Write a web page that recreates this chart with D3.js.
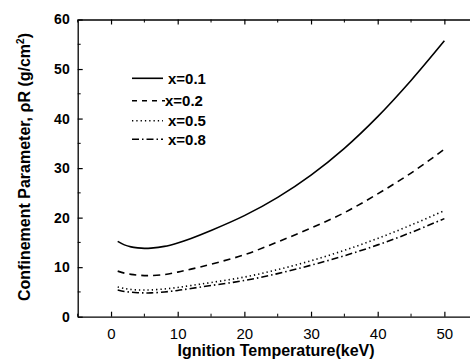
<!DOCTYPE html>
<html><head><meta charset="utf-8">
<script src="https://cdn.jsdelivr.net/npm/d3@7/dist/d3.min.js"></script>
<style>body{margin:0;background:#fff}svg{display:block}</style>
</head><body>
<svg id="c" width="470" height="363"></svg>
<script>
const temps = [1, 2, 3, 4, 5, 6, 8, 10, 12, 15, 20, 25, 30, 35, 40, 45, 50];
const series01 = [15.2, 14.5, 14.1, 13.9, 13.8, 13.85, 14.2, 14.9, 15.8, 17.4, 20.4, 24.1, 28.6, 34.0, 40.4, 47.7, 55.7];
const series02 = [9.2, 8.8, 8.55, 8.4, 8.3, 8.3, 8.5, 9.0, 9.6, 10.6, 12.5, 15.1, 17.9, 21.0, 24.8, 29.0, 33.8];
const series05 = [6.0, 5.7, 5.5, 5.4, 5.4, 5.4, 5.6, 5.9, 6.3, 6.9, 8.0, 9.5, 11.3, 13.4, 15.8, 18.5, 21.4];
const series08 = [5.4, 5.1, 4.95, 4.85, 4.8, 4.8, 5.0, 5.3, 5.7, 6.3, 7.3, 8.7, 10.4, 12.3, 14.5, 17.0, 19.8];
const seriesNames = ["x=0.1", "x=0.2", "x=0.5", "x=0.8"];
const xTicks = [0, 10, 20, 30, 40, 50];
const yTicks = [0, 10, 20, 30, 40, 50, 60];

const svg = d3.select("#c");
const x = d3.scaleLinear().domain([-5, 55]).range([77.7, 477.7]);
const y = d3.scaleLinear().domain([0, 60]).range([316.7, 19.5]);
const font = "'Liberation Sans', Arial, sans-serif";

const dashes = [null, "7,5", "1.3,3", "7,3,1.5,3"];
const allSeries = [series01, series02, series05, series08];

const line = d3.line().x(d => x(d[0])).y(d => y(d[1])).curve(d3.curveCatmullRom.alpha(0.5));
allSeries.forEach((s, i) => {
  svg.append("path")
    .datum(temps.map((t, j) => [t, s[j]]))
    .attr("d", line)
    .attr("fill", "none")
    .attr("stroke", "#000")
    .attr("stroke-width", 1.6)
    .attr("stroke-dasharray", dashes[i]);
});

// axes
const minorX = d3.range(-5, 56, 5).filter(v => v % 10 !== 0);
const minorY = d3.range(5, 60, 10);

const gBottom = svg.append("g").attr("transform", `translate(0,${y(0)})`)
  .call(d3.axisBottom(x).tickValues(xTicks).tickSizeInner(-5).tickSizeOuter(0).tickPadding(12));
gBottom.select(".domain").attr("stroke", "#000").attr("stroke-width", 1.3);
gBottom.selectAll(".tick line").attr("stroke", "#000").attr("stroke-width", 1.2);
gBottom.selectAll("text").attr("font-family", font).attr("font-size", 15).attr("fill", "#000");
gBottom.selectAll(".minor").data(minorX).enter().append("line")
  .attr("x1", d => x(d)).attr("x2", d => x(d)).attr("y1", 0).attr("y2", -3)
  .attr("stroke", "#000").attr("stroke-width", 1);

const gTop = svg.append("g").attr("transform", `translate(0,${y(60)})`)
  .call(d3.axisTop(x).tickValues(xTicks).tickSizeInner(-5).tickSizeOuter(0).tickFormat(""));
gTop.select(".domain").attr("stroke", "#000").attr("stroke-width", 1.3);
gTop.selectAll(".tick line").attr("stroke", "#000").attr("stroke-width", 1.2);
gTop.selectAll(".minor").data(minorX).enter().append("line")
  .attr("x1", d => x(d)).attr("x2", d => x(d)).attr("y1", 0).attr("y2", 3)
  .attr("stroke", "#000").attr("stroke-width", 1);

const gLeft = svg.append("g").attr("transform", `translate(${x(-5)},0)`)
  .call(d3.axisLeft(y).tickValues(yTicks).tickSizeInner(-5).tickSizeOuter(0).tickPadding(8));
gLeft.select(".domain").attr("stroke", "#000").attr("stroke-width", 1.3);
gLeft.selectAll(".tick line").attr("stroke", "#000").attr("stroke-width", 1.2);
gLeft.selectAll("text").attr("font-family", font).attr("font-size", 14).attr("font-weight", "bold").attr("fill", "#000");
gLeft.selectAll(".minor").data(minorY).enter().append("line")
  .attr("x1", 0).attr("x2", 3).attr("y1", d => y(d)).attr("y2", d => y(d))
  .attr("stroke", "#000").attr("stroke-width", 1);

// titles
svg.append("text").attr("x", 276).attr("y", 356).attr("text-anchor", "middle")
  .attr("font-family", font).attr("font-size", 16).attr("font-weight", "bold")
  .text("Ignition Temperature(keV)");
const yt = svg.append("text").attr("transform", "translate(30,167) rotate(-90)")
  .attr("text-anchor", "middle").attr("font-family", font).attr("font-size", 16).attr("font-weight", "bold");
yt.append("tspan").text("Confinement Parameter, ρR (g/cm");
yt.append("tspan").attr("font-size", 10).attr("dy", -6).text("2");
yt.append("tspan").attr("dy", 6).text(")");

// legend
const legY = [78.3, 100.7, 120.7, 139.3];
const legendTextX = [168, 165, 168, 168];
seriesNames.forEach((n, i) => {
  svg.append("line").attr("x1", 132).attr("x2", i === 1 ? 165 : 163)
    .attr("y1", legY[i]).attr("y2", legY[i])
    .attr("stroke", "#000").attr("stroke-width", 1.6).attr("stroke-dasharray", i === 1 ? "5,5" : dashes[i]);
  svg.append("text").attr("x", legendTextX[i]).attr("y", legY[i]).attr("dy", "0.36em")
    .attr("font-family", font).attr("font-size", 15).attr("font-weight", "bold").text(n);
});
</script>
</body></html>
